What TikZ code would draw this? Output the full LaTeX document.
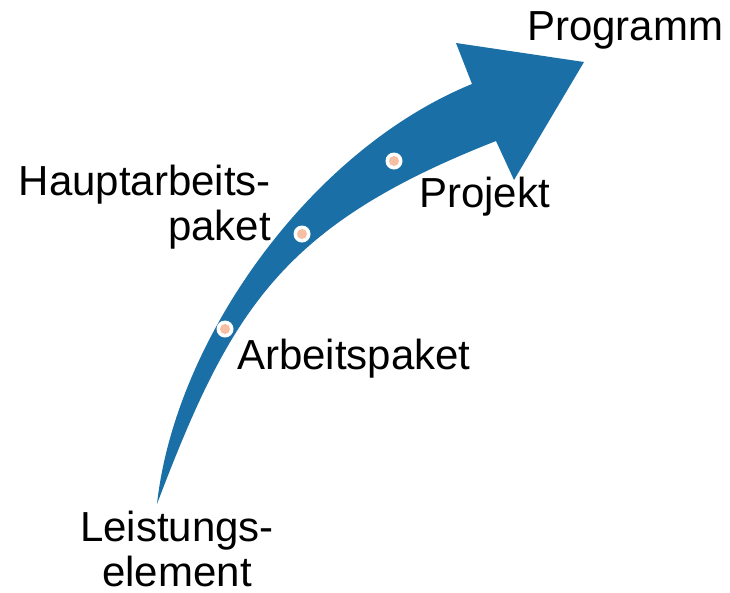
\documentclass[tikz,border=0pt]{standalone}
\usepackage{fontspec}
\setmainfont{Liberation Sans}
\definecolor{arrowblue}{HTML}{1A70A6}
\definecolor{dotfill}{HTML}{F4BFA3}
\begin{document}
\begin{tikzpicture}[x=1pt,y=-1pt,
  labeltext/.style={font=\fontsize{42}{45}\selectfont, inner sep=0pt},
  ring/.style={circle, fill=white, minimum size=17pt, inner sep=0pt},
  core/.style={circle, fill=dotfill, minimum size=10pt, inner sep=0pt}]
\useasboundingbox (0,0) rectangle (730,592);

% curved arrow: upper edge, head, lower edge back to the pointed tail
\fill[arrowblue] (157,504) .. controls (175,340) and (310,150) .. (472,84)
  -- (456,43) -- (584,62) -- (514,180) -- (496,141)
  .. controls (282,225) and (231,309) .. (157,504) -- cycle;

% milestone markers on the arrow
\foreach \n/\p in {m1/{(225,329)}, m2/{(302,234)}, m3/{(394,161)}} {
  \node[ring] (\n) at \p {};
  \node[core] at (\n) {};
}

% labels (multi-line nodes are placed by the baseline of their last line)
\node[labeltext, anchor=base west] (prog) at (527,40) {Programm};
\node[labeltext, anchor=base west] (proj) at (419,207) {Projekt};
\node[labeltext, anchor=base west] (ap) at (237,369) {Arbeitspaket};
\node[labeltext, align=right, anchor=base east] (hap) at (271,240) {Hauptarbeits-\\paket};
\node[labeltext, align=center, anchor=base] (le) at (177,586) {Leistungs-\\element};
\end{tikzpicture}
\end{document}
